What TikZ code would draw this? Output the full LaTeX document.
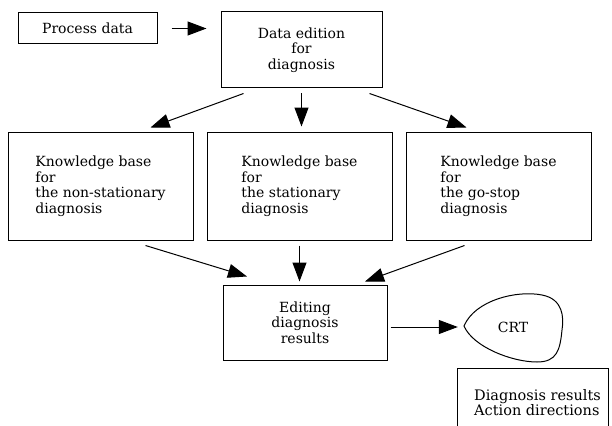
\documentclass[tikz,border=0pt]{standalone}
\usepackage{fontspec}
\setmainfont{DejaVu Serif}
\usetikzlibrary{arrows.meta, positioning}

\begin{document}
\begin{tikzpicture}[x=1pt, y=-1pt,
        box/.style={draw, line width=1pt, inner sep=0pt, font=\fontsize{14}{15.5}\selectfont},
        kbbox/.style={box, align=left, minimum width=185pt, minimum height=108pt},
        arr/.style={-{Triangle[length=19pt, width=14pt]}, line width=1pt}]
        \clip (0,0) rectangle (612,425);

        \node [box, minimum width=139pt, minimum height=31pt] (proc) at (87.5,28.5) {Process data};
        \node [box, align=center, minimum width=161pt, minimum height=76pt] (dat) at (301.5,50) {Data edition\\for\\diagnosis};
        \draw [arr, shorten >=14pt, shorten <=14pt] (proc) -- (proc -| dat.west);

        \node [kbbox] (kb1) at (100.5,186) {Knowledge base\\for\\the non-stationary\\diagnosis};
        \node [kbbox, right=13pt of kb1] (kb2) {Knowledge base\\for\\the stationary\\diagnosis};
        \node [kbbox, right=13pt of kb2] (kb3) {Knowledge base\\for\\the go-stop\\diagnosis};
        \draw [arr] ([xshift=-58pt, yshift=-5pt]dat.south) -- ([xshift=50pt, yshift=4pt]kb1.north);
        \draw [arr] ([yshift=-5pt]dat.south) -- ([yshift=5pt]dat.south |- kb2.north);
        \draw [arr] ([xshift=68pt, yshift=-5pt]dat.south) -- ([xshift=-32pt, yshift=4pt]kb3.north);

        \node [box, align=center, minimum width=164pt, minimum height=75pt] (edit) at (305,322.5) {Editing\\diagnosis\\results};
        \draw [arr] ([xshift=45pt, yshift=-5pt]kb1.south) -- ([xshift=-58pt, yshift=8pt]edit.north);
        \draw [arr] ([yshift=-5pt]kb2.south) -- ([yshift=3pt]kb2.south |- edit.north);
        \draw [arr] ([xshift=-34pt, yshift=-5pt]kb3.south) -- ([xshift=60pt, yshift=3pt]edit.north);

        \node [minimum width=98pt, minimum height=67pt, font=\fontsize{14}{15.5}\selectfont] (crt) at (513,327) {CRT};
        \draw [line width=1pt, shift={(crt.center)}] (-49,-1) .. controls (-38,-27) and (4,-37) .. (29,-32)
            .. controls (50,-28) and (51,-10) .. (49,3) .. controls (47,23) and (44,35) .. (24,35)
            .. controls (-1,35) and (-40,20) .. cycle;
        \draw [arr] ([xshift=3pt, yshift=-4.5pt]edit.east) -- ([xshift=-6pt]crt.west);

        \node [box, align=left, minimum width=151pt, minimum height=70pt, font=\fontsize{14.5}{15}\selectfont] (disp) at (532.5,403) {\hspace*{10pt}Diagnosis results\\\hspace*{10pt}Action directions};
\end{tikzpicture}
\end{document}
